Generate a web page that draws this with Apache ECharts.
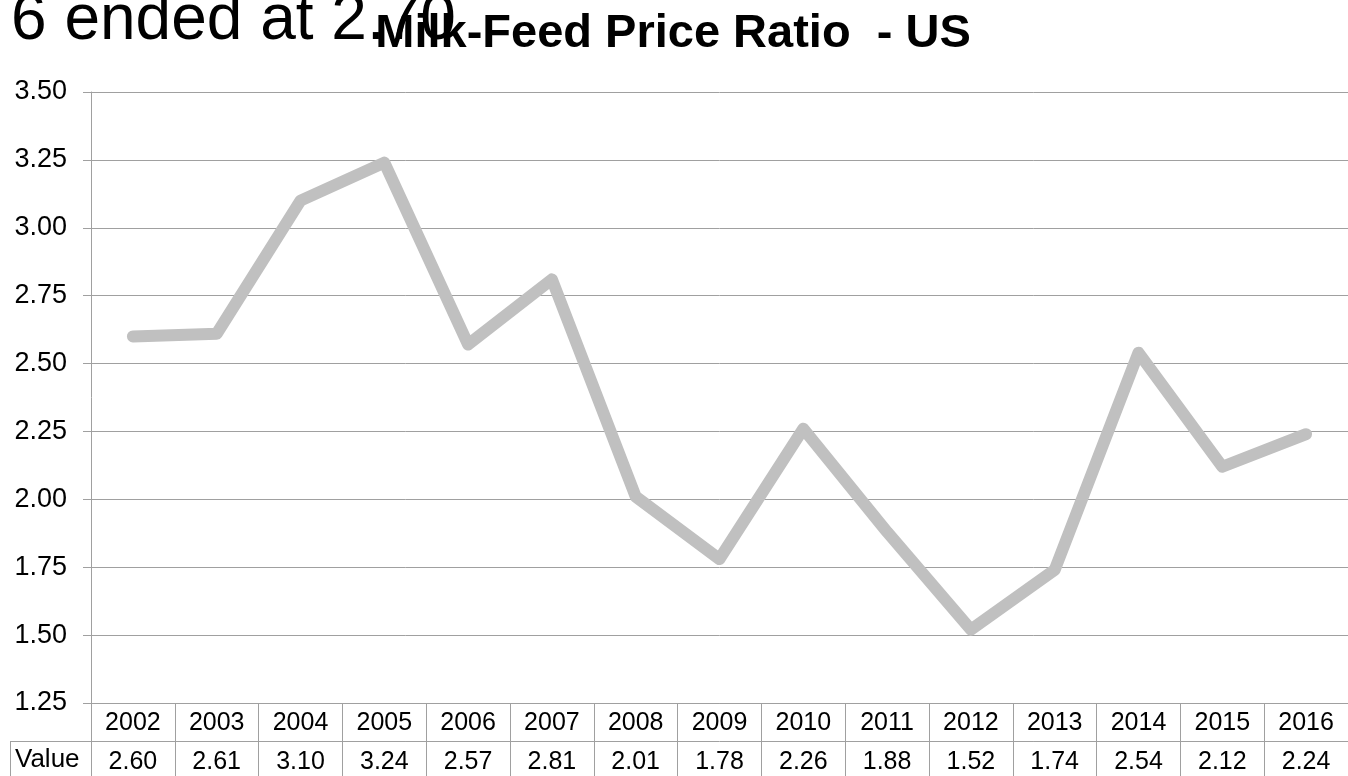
<!DOCTYPE html>
<html>
<head>
<meta charset="utf-8">
<script src="https://cdn.jsdelivr.net/npm/echarts@6/dist/echarts.min.js"></script>
<style>
html,body{margin:0;padding:0;background:#fff;}
#chart{width:1348px;height:776px;}
</style>
</head>
<body>
<div id="chart"></div>
<script>
const years = ['2002','2003','2004','2005','2006','2007','2008','2009','2010','2011','2012','2013','2014','2015','2016'];
const values = [2.60, 2.61, 3.10, 3.24, 2.57, 2.81, 2.01, 1.78, 2.26, 1.88, 1.52, 1.74, 2.54, 2.12, 2.24];
const yTicks = [1.25, 1.50, 1.75, 2.00, 2.25, 2.50, 2.75, 3.00, 3.25, 3.50];
const titleText = 'Milk-Feed Price Ratio  - US';
const overlayText = '6 ended at 2.70';
const rowLabel = 'Value';

const FONT = '"Liberation Sans", Arial, sans-serif';
const LINE = '#a0a0a0';

const chart = echarts.init(document.getElementById('chart'));
chart.setOption({
  animation: false,
  backgroundColor: '#fff',
  grid: { left: 91, right: 0, top: 92, bottom: 73 },
  xAxis: [
    {
      type: 'category',
      data: years,
      position: 'bottom',
      boundaryGap: true,
      axisLine: { show: true, lineStyle: { color: LINE, width: 1 } },
      axisTick: { show: true, interval: 0, length: 38, lineStyle: { color: LINE } },
      axisLabel: { interval: 0, color: '#000', fontFamily: FONT, fontSize: 25, margin: 8 },
      splitLine: { show: false }
    },
    {
      type: 'category',
      data: years,
      position: 'bottom',
      offset: 38,
      boundaryGap: true,
      axisLine: { show: true, lineStyle: { color: LINE, width: 1 } },
      axisTick: { show: true, interval: 0, length: 40, lineStyle: { color: LINE } },
      axisLabel: {
        interval: 0, color: '#000', fontFamily: FONT, fontSize: 25, margin: 9,
        formatter: function (v, i) { return values[i].toFixed(2); }
      },
      splitLine: { show: false }
    }
  ],
  yAxis: {
    type: 'value',
    min: yTicks[0],
    max: yTicks[yTicks.length - 1],
    interval: 0.25,
    axisLine: { show: true, lineStyle: { color: LINE, width: 1 } },
    axisTick: { show: true, length: 8, lineStyle: { color: LINE } },
    axisLabel: {
      color: '#000', fontFamily: FONT, fontSize: 27, margin: 24,
      formatter: function (v) { return v.toFixed(2); }
    },
    splitLine: { show: true, lineStyle: { color: LINE, width: 1 } }
  },
  series: [{
    type: 'line',
    xAxisIndex: 0,
    data: values,
    symbol: 'none',
    lineStyle: { color: '#c0c0c0', width: 12, cap: 'round', join: 'round' },
    z: 3
  }],
  graphic: [
    { type: 'text', left: 11, top: -11, style: { text: overlayText, font: '64px ' + FONT, fill: '#000' }, z: 10 },
    { type: 'text', x: 673, y: 34, style: { text: titleText, font: 'bold 47px ' + FONT, fill: '#000', align: 'center', verticalAlign: 'middle' }, z: 11 },
    { type: 'line', shape: { x1: 10, y1: 741.5, x2: 91, y2: 741.5 }, style: { stroke: LINE, lineWidth: 1 }, z: 5 },
    { type: 'line', shape: { x1: 10.5, y1: 741, x2: 10.5, y2: 776 }, style: { stroke: LINE, lineWidth: 1 }, z: 5 },
    { type: 'text', x: 15, y: 760, style: { text: rowLabel, font: '26px ' + FONT, fill: '#000', align: 'left', verticalAlign: 'middle' }, z: 5 }
  ]
});
</script>
</body>
</html>
